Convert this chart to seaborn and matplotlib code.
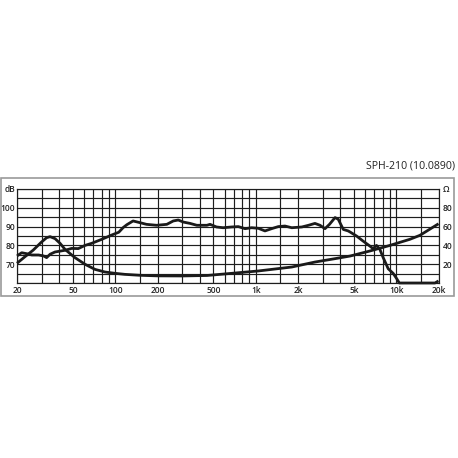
import matplotlib
matplotlib.use('Agg')
import matplotlib.pyplot as plt
from matplotlib.patches import Rectangle
from matplotlib.ticker import NullLocator
import pandas as pd
import seaborn as sns

# ---- values ----
# frequency response (left axis, dB)
spl_freq = [20, 21.6, 23.4, 25.5, 28.5, 30.9, 32.5, 34.4, 37.3, 43.9, 49, 54.6,
            61, 68, 80, 95, 106, 114, 121, 134, 150, 167, 197, 233, 259, 281,
            306, 341, 381, 449, 473, 526, 586, 674, 752, 839, 936, 1044, 1164,
            1298, 1448, 1615, 1806, 2130, 2376, 2640, 2868, 3114, 3350, 3670,
            3870, 4200, 4550, 4700, 5220, 5810, 6480, 6840, 7240, 7650, 8080,
            8770, 9520, 10080, 10520, 18880, 20000]
spl_db = [74.4, 76.1, 75.6, 74.9, 74.9, 74.4, 73.5, 75.3, 76.5, 77.4, 78.4, 78.3,
          80.0, 81.1, 83.2, 85.6, 87.0, 89.5, 91.0, 93.0, 92.1, 91.2, 90.7, 91.2,
          93.0, 93.5, 92.4, 91.7, 90.7, 90.7, 91.2, 89.8, 89.4, 89.8, 90.0, 88.9,
          89.4, 89.1, 87.7, 88.9, 90.0, 90.3, 89.4, 89.8, 90.7, 91.7, 90.7, 88.9,
          91.2, 94.8, 93.9, 88.5, 87.7, 87.1, 85.0, 82.3, 79.7, 78.3, 80.0, 77.9,
          73.5, 67.6, 65.1, 62.3, 60.0, 60.0, 61.1]

# impedance (right axis, ohm)
imp_freq = [20, 22.8, 26.1, 29.9, 32.5, 34.4, 37.3, 40.5, 43.9, 51.7, 61, 71.8,
            84.5, 99.6, 117, 150, 200, 300, 450, 620, 1044, 1806, 2640, 3670,
            4700, 6480, 9020, 12520, 14740, 20000]
imp_ohm = [21, 28, 35, 43.6, 48.2, 49.3, 47.2, 42.2, 35.8, 27, 19.9, 14.5,
           11.7, 10.3, 9.2, 8.2, 7.6, 7.5, 8.0, 9.8, 12.8, 17, 22.3, 25.9,
           28.7, 34, 40, 46.5, 50.7, 63]

grid_freqs = [20, 30, 40, 50, 60, 70, 80, 90, 100, 150, 200, 300, 400, 500, 600,
              700, 800, 900, 1000, 1500, 2000, 3000, 4000, 5000, 6000, 7000,
              8000, 9000, 10000, 15000, 20000]
freq_labels = {20: '20', 50: '50', 100: '100', 200: '200', 500: '500',
               1000: '1k', 2000: '2k', 5000: '5k', 10000: '10k', 20000: '20k'}
db_ticks = list(range(60, 111, 5))
db_labels = {70: '70', 80: '80', 90: '90', 100: '100', 110: 'dB'}
ohm_ticks = list(range(0, 101, 10))
ohm_labels = {20: '20', 40: '40', 60: '60', 80: '80', 100: 'Ω'}

spl = pd.DataFrame({'freq': spl_freq, 'db': spl_db})
imp = pd.DataFrame({'freq': imp_freq, 'ohm': imp_ohm})

sns.set_theme(style='white')
plt.rcParams['font.family'] = ['Open Sans', 'DejaVu Sans']

W = 458
fig = plt.figure(figsize=(4.58, 4.58), dpi=100)
ax = fig.add_axes([17 / W, 175 / W, 421.5 / W, 94 / W])
ax.set_xscale('log')
ax2 = ax.twinx()

line_c = '#1a1a1a'
sns.lineplot(data=spl, x='freq', y='db', ax=ax, color=line_c, linewidth=2.0)
sns.lineplot(data=imp, x='freq', y='ohm', ax=ax2, color=line_c, linewidth=2.0)
for a in (ax, ax2):
    for ln in a.get_lines():
        ln.set_clip_on(False)
        ln.set_solid_capstyle('butt')

ax.set_xlim(20, 20000)
ax.set_ylim(60, 110)
ax2.set_ylim(0, 100)

ax.set_xticks(grid_freqs)
ax.set_xticklabels([freq_labels.get(f, '') for f in grid_freqs])
ax.xaxis.set_minor_locator(NullLocator())
ax.set_yticks(db_ticks)
ax.set_yticklabels([db_labels.get(v, '') for v in db_ticks])
ax2.set_yticks(ohm_ticks)
ax2.set_yticklabels([ohm_labels.get(v, '') for v in ohm_ticks])

grid_c = '#1e1e1e'
ax.grid(True, which='major', color=grid_c, linewidth=0.85)
ax2.grid(False)
ax.set_xlabel('')
ax.set_ylabel('')
ax2.set_xlabel('')
ax2.set_ylabel('')

tick_font = dict(labelsize=6, length=0, colors='#222222')
ax.tick_params(axis='x', pad=2.0, **tick_font)
ax.tick_params(axis='y', pad=1.4, **tick_font)
ax2.tick_params(axis='y', pad=3.0, **tick_font)
for lab in ax.get_xticklabels() + ax.get_yticklabels() + ax2.get_yticklabels():
    lab.set_fontweight('semibold')

for s in ax.spines.values():
    s.set_color(grid_c)
    s.set_linewidth(0.85)
for s in ax2.spines.values():
    s.set_visible(False)

# light grey frame around the whole chart block
fig.patches.append(Rectangle((1 / W, 162 / W), 453 / W, 118 / W,
                             transform=fig.transFigure, fill=False,
                             edgecolor='#9a9a9a', linewidth=1.2))

fig.text(455 / W, 1 - 166 / W, 'SPH-210 (10.0890)', ha='right', va='center',
         fontsize=7.6, color='#222222')

fig.savefig('out.png', dpi=100)
